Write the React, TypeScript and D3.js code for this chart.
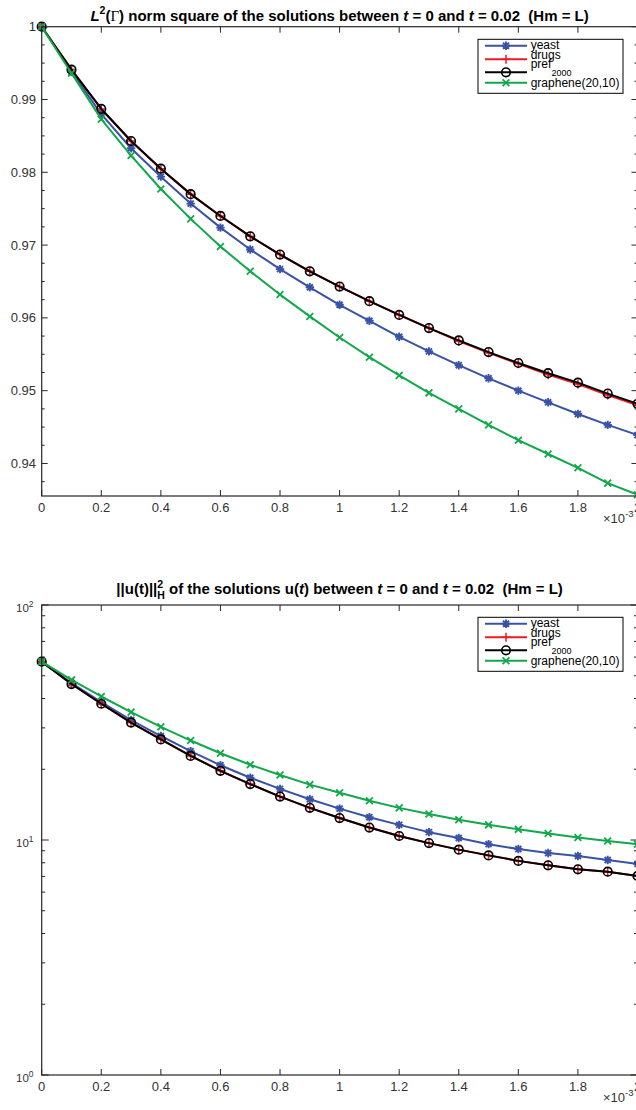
import React from "react";
import * as d3 from "d3";

// time in units of 1e-3
const tValues = [0, 0.1, 0.2, 0.3, 0.4, 0.5, 0.6, 0.7, 0.8, 0.9, 1.0, 1.1, 1.2, 1.3, 1.4, 1.5, 1.6, 1.7, 1.8, 1.9, 2.0];

// L2(Gamma) norm square
const yeastL2 = [1.0, 0.9938, 0.988, 0.9833, 0.9794, 0.9757, 0.9724, 0.9694, 0.9667, 0.9642, 0.9618, 0.9596, 0.9574, 0.9554, 0.9535, 0.9517, 0.95, 0.9484, 0.9468, 0.9453, 0.9439];
const drugsL2 = [1.0, 0.9941, 0.9887, 0.9843, 0.9805, 0.977, 0.974, 0.9712, 0.9687, 0.9664, 0.9643, 0.9623, 0.9604, 0.9586, 0.9568, 0.9552, 0.9537, 0.9522, 0.9509, 0.9494, 0.948];
const prefL2 = [1.0, 0.9941, 0.9887, 0.9843, 0.9805, 0.977, 0.974, 0.9712, 0.9687, 0.9664, 0.9643, 0.9623, 0.9604, 0.9586, 0.9569, 0.9553, 0.9538, 0.9524, 0.9511, 0.9496, 0.9482];
const grapheneL2 = [1.0, 0.9936, 0.9873, 0.9823, 0.9777, 0.9736, 0.9698, 0.9664, 0.9632, 0.9602, 0.9573, 0.9546, 0.9521, 0.9497, 0.9475, 0.9453, 0.9432, 0.9413, 0.9394, 0.9373, 0.9357];

// ||u(t)||_H^2
const yeastH = [57.4, 46.5, 38.6, 32.4, 27.7, 23.9, 20.8, 18.4, 16.5, 14.9, 13.6, 12.5, 11.6, 10.8, 10.2, 9.6, 9.15, 8.8, 8.55, 8.22, 7.91];
const drugsH = [57.4, 46.1, 38.0, 31.6, 26.8, 22.8, 19.7, 17.3, 15.3, 13.7, 12.4, 11.3, 10.4, 9.7, 9.1, 8.6, 8.15, 7.8, 7.5, 7.33, 7.03];
const prefH = [57.4, 46.1, 38.0, 31.6, 26.8, 22.8, 19.7, 17.3, 15.3, 13.7, 12.4, 11.3, 10.4, 9.7, 9.1, 8.6, 8.15, 7.8, 7.5, 7.33, 7.03];
const grapheneH = [57.4, 48.0, 40.8, 35.0, 30.3, 26.5, 23.4, 20.9, 18.9, 17.2, 15.9, 14.7, 13.7, 12.9, 12.2, 11.6, 11.1, 10.65, 10.25, 9.9, 9.59];

const xTickValues = [0, 0.2, 0.4, 0.6, 0.8, 1.0, 1.2, 1.4, 1.6, 1.8, 2.0];
const xTickLabels = ["0", "0.2", "0.4", "0.6", "0.8", "1", "1.2", "1.4", "1.6", "1.8", "2"];
const l2TickValues = [0.94, 0.95, 0.96, 0.97, 0.98, 0.99, 1.0];
const l2TickLabels = ["0.94", "0.95", "0.96", "0.97", "0.98", "0.99", "1"];
const l2MinorTicks = [0.9375, 0.9425, 0.945, 0.9475, 0.9525, 0.955, 0.9575, 0.9625, 0.965, 0.9675, 0.9725, 0.975, 0.9775, 0.9825, 0.985, 0.9875, 0.9925, 0.995, 0.9975];
const hMajorTicks = [1, 10, 100];
const hMajorExponents = ["0", "1", "2"];
const hMinorTicks = [2, 3, 4, 5, 6, 7, 8, 9, 20, 30, 40, 50, 60, 70, 80, 90];

const seriesNames = ["yeast", "drugs", "pref", "graphene"];
const seriesColors = ["#3a52a6", "#ec1c24", "#000000", "#11a84a"];
const seriesMarkers = ["asterisk", "plus", "circle", "cross"];

const FONT = "'Liberation Sans', Arial, Helvetica, sans-serif";
const X0 = 41.7;
const X1 = 637.5;
const AXIS = "#262626";
const LABEL = "#333333";

const xScale = d3.scaleLinear().domain([0, 2]).range([X0, X1]);

function Marker({ kind, x, y, color }: { kind: string; x: number; y: number; color: string }) {
  if (kind === "asterisk") {
    const s = 4.2;
    const d = s * 0.72;
    return (
      <path
        d={`M${x - s},${y}H${x + s}M${x},${y - s}V${y + s}M${x - d},${y - d}L${x + d},${y + d}M${x - d},${y + d}L${x + d},${y - d}`}
        stroke={color}
        strokeWidth={1.9}
        fill="none"
      />
    );
  }
  if (kind === "plus") {
    const s = 4.5;
    return <path d={`M${x - s},${y}H${x + s}M${x},${y - s}V${y + s}`} stroke={color} strokeWidth={1.5} fill="none" />;
  }
  if (kind === "circle") {
    return <circle cx={x} cy={y} r={4.3} stroke={color} strokeWidth={1.6} fill="none" />;
  }
  const s = 3.4;
  return (
    <path d={`M${x - s},${y - s}L${x + s},${y + s}M${x - s},${y + s}L${x + s},${y - s}`} stroke={color} strokeWidth={1.8} fill="none" />
  );
}

function Legend({ top }: { top: number }) {
  const left = 478;
  const lineY = [6.4, 20, 33, 43.4];
  const textY = [10, 19.3, 28.4, 47.7];
  return (
    <g>
      <rect x={left} y={top} width={145} height={54} fill="#ffffff" stroke="#000" strokeWidth={1} />
      {seriesNames.map((name, i) => (
        <g key={name}>
          <line x1={485} x2={527} y1={top + lineY[i]} y2={top + lineY[i]} stroke={seriesColors[i]} strokeWidth={2} />
          <Marker kind={seriesMarkers[i]} x={506} y={top + lineY[i]} color={seriesColors[i]} />
        </g>
      ))}
      <text x={530.7} y={top + textY[0]} fontSize={12} fontFamily={FONT} fill="#000">yeast</text>
      <text x={530.7} y={top + textY[1]} fontSize={12} fontFamily={FONT} fill="#000">drugs</text>
      <text x={530.7} y={top + textY[2]} fontSize={12} fontFamily={FONT} fill="#000">
        pref
        <tspan fontSize={9} dy={8.3}>2000</tspan>
      </text>
      <text x={530.7} y={top + textY[3]} fontSize={12} fontFamily={FONT} fill="#000">graphene(20,10)</text>
    </g>
  );
}

function Series({ yScale, data }: { yScale: (v: number) => number; data: number[][] }) {
  const line = d3
    .line<number>()
    .x((_, i) => xScale(tValues[i]))
    .y((d) => yScale(d));
  return (
    <g>
      {data.map((vals, si) => (
        <g key={seriesNames[si]}>
          <path d={line(vals) || ""} fill="none" stroke={seriesColors[si]} strokeWidth={2} strokeLinejoin="round" />
          {vals.map((v, i) => (
            <Marker key={i} kind={seriesMarkers[si]} x={xScale(tValues[i])} y={yScale(v)} color={seriesColors[si]} />
          ))}
        </g>
      ))}
    </g>
  );
}

function XAxis({ top, bottom }: { top: number; bottom: number }) {
  return (
    <g>
      {xTickValues.map((v, i) => (
        <g key={v}>
          <line x1={xScale(v)} x2={xScale(v)} y1={bottom} y2={bottom - 6} stroke={AXIS} strokeWidth={1} />
          <line x1={xScale(v)} x2={xScale(v)} y1={top} y2={top + 6} stroke={AXIS} strokeWidth={1} />
          <text x={xScale(v)} y={bottom + 15.7} fontSize={13} fontFamily={FONT} fill={LABEL} textAnchor="middle">
            {xTickLabels[i]}
          </text>
        </g>
      ))}
      <text x={603} y={bottom + 26.7} fontSize={13} fontFamily={FONT} fill={LABEL}>
        ×10
        <tspan fontSize={9.5} dy={-6}>-3</tspan>
      </text>
    </g>
  );
}

function Box({ top, bottom }: { top: number; bottom: number }) {
  return (
    <rect x={X0} y={top} width={X1 - X0} height={bottom - top} fill="none" stroke={AXIS} strokeWidth={1.2} />
  );
}

export default function App() {
  const topT = 26.7;
  const topB = 496;
  const botT = 605;
  const botB = 1075;
  const yL2 = d3.scaleLinear().domain([0.93553, 1.0]).range([topB, topT]);
  const yH = d3.scaleLog().domain([1, 100]).range([botB, botT]);

  return (
    <svg
      width={636}
      height={1110}
      style={{ position: "absolute", left: 0, top: 0, background: "#fff" }}
      fontFamily={FONT}
    >
      <rect x={0} y={0} width={636} height={1110} fill="#fff" />

      {/* ---------- top panel ---------- */}
      <text x={339.6} y={20.5} fontSize={15} fontWeight="bold" textAnchor="middle" fill="#000" style={{ whiteSpace: "pre" }}>
        <tspan fontStyle="italic">L</tspan>
        <tspan fontSize={10.5} dy={-6.5}>2</tspan>
        <tspan dy={6.5}>(</tspan>
        <tspan fontWeight="normal" fontFamily="'Liberation Serif', serif">Γ</tspan>
        <tspan>) norm square of the solutions between </tspan>
        <tspan fontStyle="italic">t</tspan>
        <tspan> = 0 and </tspan>
        <tspan fontStyle="italic">t</tspan>
        <tspan>{" = 0.02\u00a0\u00a0(Hm = L)"}</tspan>
      </text>
      <Series yScale={yL2} data={[yeastL2, drugsL2, prefL2, grapheneL2]} />
      <Box top={topT} bottom={topB} />
      {l2TickValues.map((v, i) => (
        <g key={v}>
          <line x1={X0} x2={X0 + 6} y1={yL2(v)} y2={yL2(v)} stroke={AXIS} />
          <line x1={X1} x2={X1 - 6} y1={yL2(v)} y2={yL2(v)} stroke={AXIS} />
          <text x={36} y={yL2(v)} dy="0.35em" fontSize={13} fill={LABEL} textAnchor="end">
            {l2TickLabels[i]}
          </text>
        </g>
      ))}
      {l2MinorTicks.map((v) => (
        <g key={v}>
          <line x1={X0} x2={X0 + 3} y1={yL2(v)} y2={yL2(v)} stroke={AXIS} />
          <line x1={X1} x2={X1 - 3} y1={yL2(v)} y2={yL2(v)} stroke={AXIS} />
        </g>
      ))}
      <XAxis top={topT} bottom={topB} />
      <Legend top={39.3} />

      {/* ---------- bottom panel ---------- */}
      <text x={339.6} y={594} fontSize={15} fontWeight="bold" textAnchor="middle" fill="#000" style={{ whiteSpace: "pre" }}>
        <tspan>||u(t)||</tspan>
        <tspan fontSize={10.5} dy={-6.5}>2</tspan>
        <tspan fontSize={10.5} dx={-5.9} dy={11.5}>H</tspan>
        <tspan dy={-5}> of the solutions u(</tspan>
        <tspan fontStyle="italic">t</tspan>
        <tspan>) between </tspan>
        <tspan fontStyle="italic">t</tspan>
        <tspan> = 0 and </tspan>
        <tspan fontStyle="italic">t</tspan>
        <tspan>{" = 0.02\u00a0\u00a0(Hm = L)"}</tspan>
      </text>
      <Series yScale={yH} data={[yeastH, drugsH, prefH, grapheneH]} />
      <Box top={botT} bottom={botB} />
      {hMajorTicks.map((v, i) => (
        <g key={v}>
          <line x1={X0} x2={X0 + 7} y1={yH(v)} y2={yH(v)} stroke={AXIS} />
          <line x1={X1} x2={X1 - 7} y1={yH(v)} y2={yH(v)} stroke={AXIS} />
          <text x={16} y={yH(v) + 7} fontSize={11.5} fill={LABEL}>
            10
            <tspan fontSize={8.5} dy={-5.5}>{hMajorExponents[i]}</tspan>
          </text>
        </g>
      ))}
      {hMinorTicks.map((v) => (
        <g key={v}>
          <line x1={X0} x2={X0 + 3.5} y1={yH(v)} y2={yH(v)} stroke={AXIS} />
          <line x1={X1} x2={X1 - 3.5} y1={yH(v)} y2={yH(v)} stroke={AXIS} />
        </g>
      ))}
      <XAxis top={botT} bottom={botB} />
      <Legend top={617.3} />
    </svg>
  );
}
